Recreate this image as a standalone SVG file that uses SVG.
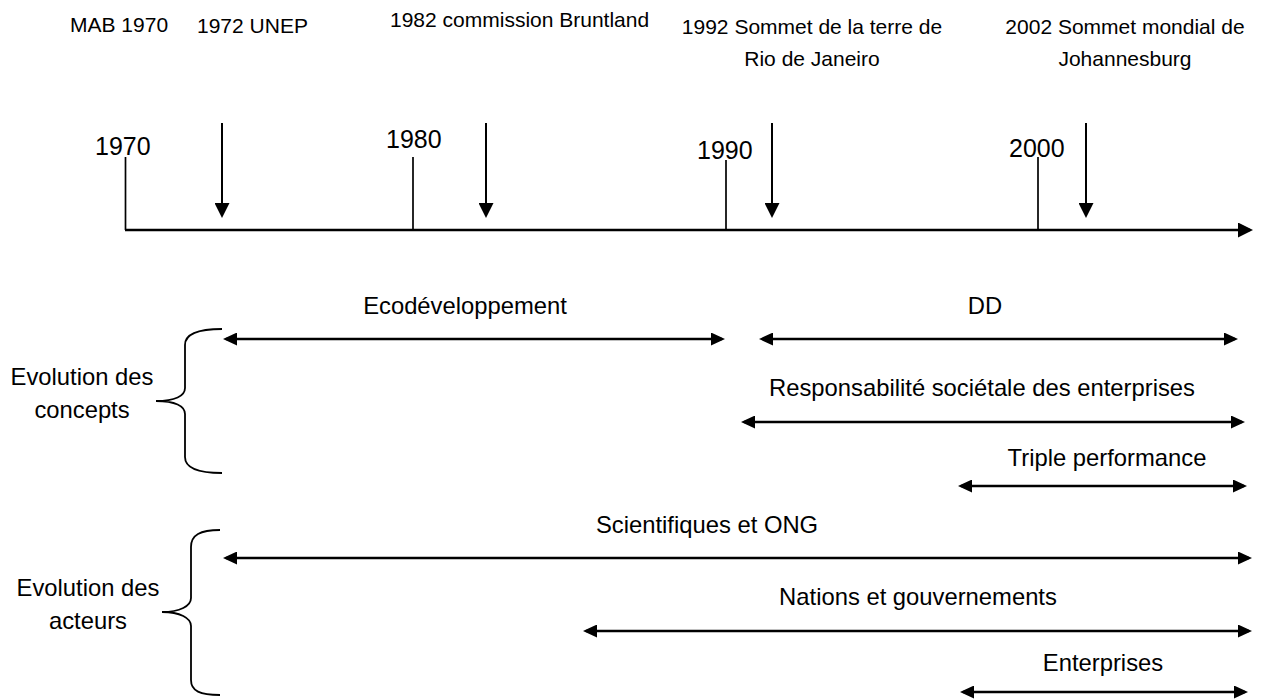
<svg xmlns="http://www.w3.org/2000/svg" width="1264" height="700" viewBox="0 0 1264 700">
<style>
text{font-family:"Liberation Sans",Arial,sans-serif;fill:#000}
.ev{font-size:21px}
.yr{font-size:25px}
.lb{font-size:23.8px}
.ax{stroke:#000;stroke-width:2.6;fill:none}
.tk{stroke:#000;stroke-width:1.7;fill:none}
.dn{stroke:#000;stroke-width:2;fill:none}
.sp{stroke:#000;stroke-width:2.4;fill:none}
.br{stroke:#000;stroke-width:1.8;fill:none}
</style>
<defs>
<marker id="big" viewBox="0 0 15 15" refX="12" refY="7.5" markerWidth="15" markerHeight="15" markerUnits="userSpaceOnUse" orient="auto-start-reverse"><path d="M0,0 L15,7.5 L0,15 Z" fill="#000"/></marker>
<marker id="sm" viewBox="0 0 14 13" refX="11" refY="6.5" markerWidth="14" markerHeight="13" markerUnits="userSpaceOnUse" orient="auto-start-reverse"><path d="M0,0 L14,6.5 L0,13 Z" fill="#000"/></marker>
</defs>
<g id="events">
<text class="ev" x="70" y="32">MAB 1970</text>
<text class="ev" x="197" y="33">1972 UNEP</text>
<text class="ev" x="390" y="27">1982 commission Bruntland</text>
<text class="ev" x="812" y="34" text-anchor="middle">1992 Sommet de la terre de</text>
<text class="ev" x="812" y="66" text-anchor="middle">Rio de Janeiro</text>
<text class="ev" x="1125" y="34" text-anchor="middle">2002 Sommet mondial de</text>
<text class="ev" x="1125" y="66" text-anchor="middle">Johannesburg</text>
</g>
<g id="years">
<text class="yr" x="95" y="155">1970</text>
<text class="yr" x="386" y="148">1980</text>
<text class="yr" x="697" y="159">1990</text>
<text class="yr" x="1009" y="157">2000</text>
</g>
<g id="concepts-brace">
<path class="br" d="M222,329 C200,329 185,333 185,345 L185,388 C185,396 175,401 156,401 C175,401 185,406 185,414 L185,457 C185,469 200,473 222,473"/>
<text class="lb" x="82" y="385" text-anchor="middle">Evolution des</text>
<text class="lb" x="82" y="418" text-anchor="middle">concepts</text>
</g>
<g id="acteurs-brace">
<path class="br" d="M220,530 C200,530 191,535 191,547 L191,598 C191,606 180,612 162,612 C180,612 191,618 191,626 L191,680 C191,691 200,695 220,695"/>
<text class="lb" x="88" y="596" text-anchor="middle">Evolution des</text>
<text class="lb" x="88" y="629" text-anchor="middle">acteurs</text>
</g>
<g id="labels">
<text class="lb" x="465" y="314" text-anchor="middle">Ecodéveloppement</text>
<text class="lb" x="985" y="314" text-anchor="middle">DD</text>
<text class="lb" x="982" y="396" text-anchor="middle">Responsabilité sociétale des enterprises</text>
<text class="lb" x="1107" y="466" text-anchor="middle">Triple performance</text>
<text class="lb" x="707" y="533" text-anchor="middle">Scientifiques et ONG</text>
<text class="lb" x="918" y="605" text-anchor="middle">Nations et gouvernements</text>
<text class="lb" x="1103" y="671" text-anchor="middle">Enterprises</text>
</g>
<g id="connectors">
<line class="ax" x1="125" y1="230" x2="1250" y2="230" marker-end="url(#big)"/>
<line class="tk" x1="125.5" y1="157" x2="125.5" y2="230"/>
<line class="tk" x1="413" y1="157" x2="413" y2="230"/>
<line class="tk" x1="726" y1="160" x2="726" y2="230"/>
<line class="tk" x1="1038" y1="157" x2="1038" y2="230"/>
<line class="dn" x1="222" y1="123" x2="222" y2="215" marker-end="url(#big)"/>
<line class="dn" x1="486" y1="123" x2="486" y2="215" marker-end="url(#big)"/>
<line class="dn" x1="772" y1="123" x2="772" y2="215" marker-end="url(#big)"/>
<line class="dn" x1="1086" y1="123" x2="1086" y2="215" marker-end="url(#big)"/>
<line class="sp" x1="226" y1="339" x2="722" y2="339" marker-start="url(#sm)" marker-end="url(#sm)"/>
<line class="sp" x1="762" y1="339" x2="1235" y2="339" marker-start="url(#sm)" marker-end="url(#sm)"/>
<line class="sp" x1="744" y1="422" x2="1242" y2="422" marker-start="url(#sm)" marker-end="url(#sm)"/>
<line class="sp" x1="961" y1="486" x2="1244" y2="486" marker-start="url(#sm)" marker-end="url(#sm)"/>
<line class="sp" x1="226" y1="558" x2="1249" y2="558" marker-start="url(#sm)" marker-end="url(#sm)"/>
<line class="sp" x1="586" y1="631" x2="1249" y2="631" marker-start="url(#sm)" marker-end="url(#sm)"/>
<line class="sp" x1="963" y1="692" x2="1245" y2="692" marker-start="url(#sm)" marker-end="url(#sm)"/>
</g>
</svg>
